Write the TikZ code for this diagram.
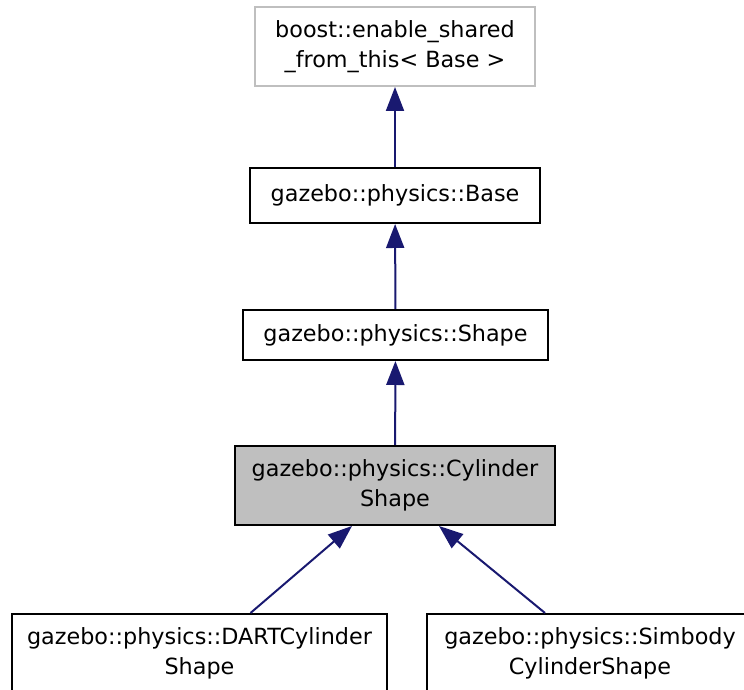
\documentclass[tikz,border=0pt]{standalone}
\usepackage{fontspec}
\setmainfont{DejaVu Sans}
\usetikzlibrary{arrows.meta}
\usetikzlibrary{calc}
\definecolor{edgeColor}{RGB}{25,25,112}
\definecolor{extColor}{RGB}{191,191,191}
\definecolor{focusColor}{RGB}{191,191,191}

\begin{document}
\begin{tikzpicture}[x=1pt,y=1pt]

          \tikzstyle{classNode} = [draw=black, line width=2pt, fill=white, inner sep=0pt, align=center, font=\fontsize{22.3}{29.5}\selectfont];
          \tikzstyle{extNode} = [classNode, draw=extColor];
          \tikzstyle{focusNode} = [classNode, fill=focusColor];

          \tikzstyle{inheritEdge} = [line width=2pt, edgeColor, -{Triangle[length=24pt,width=18pt]}];

          \clip (0,0) rectangle (744,690);
          \useasboundingbox (0,0) rectangle (744,690);

          \node[extNode, minimum width=280, minimum height=79] (esft) at (395,643.5) {boost::enable\_shared\\\_from\_this< Base >};
          \node[classNode, minimum width=290, minimum height=55] (base) at (395,494.5) {gazebo::physics::Base};
          \node[classNode, minimum width=305, minimum height=50] (shape) at (395.5,355) {gazebo::physics::Shape};
          \node[focusNode, minimum width=320, minimum height=79] (cyl) at (395,204.5) {gazebo::physics::Cylinder\\Shape};
          \node[classNode, minimum width=375, minimum height=79] (dart) at (199.5,36.5) {gazebo::physics::DARTCylinder\\Shape};
          \node[classNode, minimum width=326, minimum height=79] (simbody) at (590,36.5) {gazebo::physics::Simbody\\CylinderShape};

          \draw[inheritEdge] (base) -- (esft);
          \draw[inheritEdge] (shape) -- (base);
          \draw[inheritEdge] (cyl) -- (shape);
          \draw[inheritEdge] ($(dart.north)+(51,0)$) -- ($(cyl.south)+(-43,0)$);
          \draw[inheritEdge] ($(simbody.north)+(-45,0)$) -- ($(cyl.south)+(44,0)$);
        \end{tikzpicture}
\end{document}
